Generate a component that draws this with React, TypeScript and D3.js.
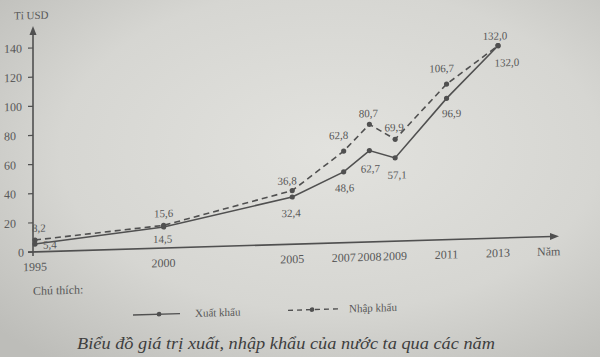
import React, { useEffect } from "react";
import * as d3 from "d3";

const years = [1995, 2000, 2005, 2007, 2008, 2009, 2011, 2013];
const exportValues = [5.4, 14.5, 32.4, 48.6, 62.7, 57.1, 96.9, 132.0];
const importValues = [8.2, 15.6, 36.8, 62.8, 80.7, 69.9, 106.7, 132.0];
const yTicks = [0, 20, 40, 60, 80, 100, 120, 140];
const exportLabelOffsets = [
  [15, 1], [-1, 12], [-1, 16], [1, 16], [1, 18], [2, 17], [5, 15], [9, 17],
];
const importLabelOffsets = [
  [4, -12], [0, -12], [-5, -10], [-5, -16], [-1, -11], [-1, -12], [-5, -16], [-3, -10],
];
const yAxisTitle = "Tỉ USD";
const xAxisTitle = "Năm";
const legendTitle = "Chú thích:";
const exportName = "Xuất khẩu";
const importName = "Nhập khẩu";
const caption = "Biểu đồ giá trị xuất, nhập khẩu của nước ta qua các năm";

const W = 600;
const H = 357;
const ink = "#505050";
const textInk = "#585858";
const font = "'Liberation Serif', 'DejaVu Serif', serif";
const shear = 0.03;
const shearDeg = (Math.atan(shear) * 180) / Math.PI;

const fmt = (v: number) => v.toFixed(1).replace(".", ",");

export default function App() {
  useEffect(() => {
    document.body.style.margin = "0";
  }, []);

  const x = d3.scaleLinear().domain([1995, 2013]).range([35, 498]);
  const y = d3.scaleLinear().domain([0, 140]).range([252, 48]);
  const axisX = 33;
  const axisY = y(0);

  const line = d3
    .line<number>()
    .x((_, i) => x(years[i]))
    .y((d) => y(d));

  const exportPath = line(exportValues) || "";
  const importPath = line(importValues) || "";

  const chartTransform = `translate(0, ${shear * axisX}) skewY(${-shearDeg})`;

  return (
    <svg
      width={W}
      height={H}
      viewBox={`0 0 ${W} ${H}`}
      style={{ position: "absolute", left: 0, top: 0, display: "block" }}
      fontFamily={font}
    >
      <defs>
        <radialGradient id="paper" cx="55%" cy="42%" r="75%">
          <stop offset="0%" stopColor="#e2e2de" />
          <stop offset="60%" stopColor="#d6d6d2" />
          <stop offset="100%" stopColor="#bdbdb9" />
        </radialGradient>
      </defs>
      <rect x={0} y={0} width={W} height={H} fill="url(#paper)" />

      <g transform={chartTransform}>
        {/* y axis */}
        <line x1={axisX} y1={axisY + 4} x2={axisX} y2={32} stroke={ink} strokeWidth={1.6} />
        <path d={`M${axisX},26 L${axisX - 3.5},35 L${axisX + 3.5},35 Z`} fill={ink} />
        <text x={14} y={19} fontSize={11} fill={textInk}>
          {yAxisTitle}
        </text>
        {yTicks.map((t) => (
          <g key={t}>
            <line x1={axisX - 5} x2={axisX} y1={y(t)} y2={y(t)} stroke={ink} strokeWidth={1.2} />
            <text
              x={t === 0 ? 24 : 4}
              y={y(t)}
              dy="0.35em"
              textAnchor={t === 0 ? "end" : "start"}
              fontSize={12}
              fill={textInk}
            >
              {t}
            </text>
          </g>
        ))}

        {/* x axis */}
        <line x1={axisX - 5} y1={axisY} x2={552} y2={axisY} stroke={ink} strokeWidth={1.6} />
        <path d={`M559,${axisY} L550,${axisY - 3.5} L550,${axisY + 3.5} Z`} fill={ink} />
        {years.map((yr) => (
          <text key={yr} x={x(yr)} y={axisY + 19} textAnchor="middle" fontSize={12} fill={textInk}>
            {yr}
          </text>
        ))}
        <text x={537} y={axisY + 19} fontSize={12} fill={textInk}>
          {xAxisTitle}
        </text>

        {/* series */}
        <path d={importPath} fill="none" stroke={ink} strokeWidth={1.6} strokeDasharray="6,4" />
        <path d={exportPath} fill="none" stroke={ink} strokeWidth={1.6} />
        {years.map((yr, i) => (
          <g key={"m" + yr}>
            <circle cx={x(yr)} cy={y(importValues[i])} r={2.6} fill={ink} />
            <circle cx={x(yr)} cy={y(exportValues[i])} r={2.6} fill={ink} />
          </g>
        ))}
        {years.map((yr, i) => (
          <g key={"l" + yr} fontSize={11} fill={textInk} textAnchor="middle">
            <text
              x={x(yr) + importLabelOffsets[i][0]}
              y={y(importValues[i]) + importLabelOffsets[i][1]}
              dy="0.35em"
            >
              {fmt(importValues[i])}
            </text>
            <text
              x={x(yr) + exportLabelOffsets[i][0]}
              y={y(exportValues[i]) + exportLabelOffsets[i][1]}
              dy="0.35em"
            >
              {fmt(exportValues[i])}
            </text>
          </g>
        ))}

        {/* legend */}
        <text x={33} y={295} fontSize={12} fill={textInk}>
          {legendTitle}
        </text>
        <line x1={133} x2={180} y1={318} y2={318} stroke={ink} strokeWidth={1.4} />
        <circle cx={159} cy={318} r={2.4} fill={ink} />
        <text x={195} y={318} dy="0.35em" fontSize={11} fill={textInk}>
          {exportName}
        </text>
        <line x1={288} x2={338} y1={318} y2={318} stroke={ink} strokeWidth={1.4} strokeDasharray="5,4" />
        <circle cx={312} cy={318} r={2.4} fill={ink} />
        <text x={349} y={318} dy="0.35em" fontSize={11} fill={textInk}>
          {importName}
        </text>
      </g>

      <text x={77} y={349} fontSize={16.5} fontStyle="italic" fill="#3e3e3e" textLength={418} lengthAdjust="spacingAndGlyphs">
        {caption}
      </text>
    </svg>
  );
}
